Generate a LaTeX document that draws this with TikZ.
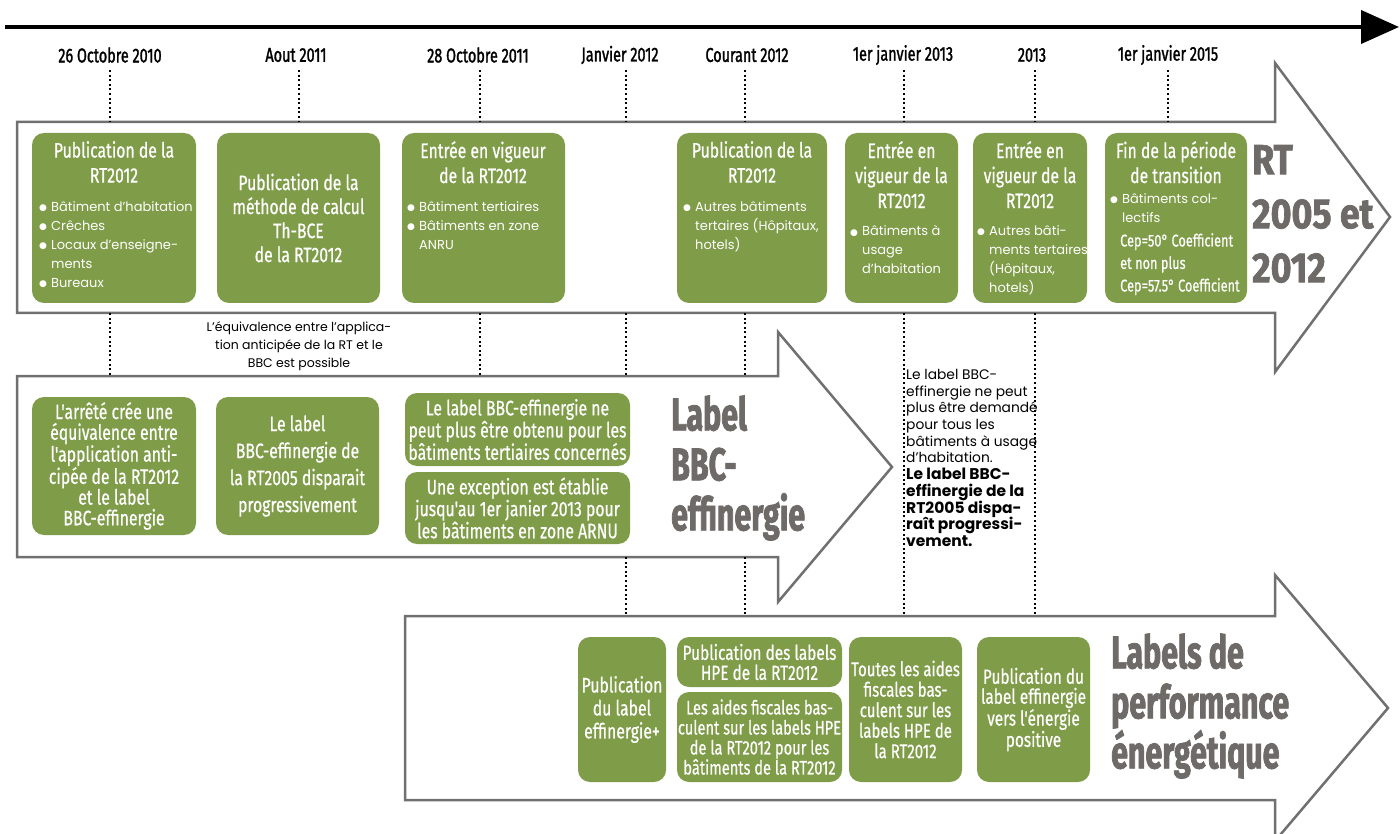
\documentclass[tikz,border=0pt]{standalone}
\usepackage{fontspec}
\setmainfont{Poppins}
\newfontfamily\cond[FakeStretch=0.75,FakeBold=0.6]{Fira Sans}
\newfontfamily\condm[FakeStretch=0.72,FakeBold=1.4]{Fira Sans}
\newfontfamily\bigf[FakeStretch=0.66,FakeBold=1.6]{Fira Sans}
\newfontfamily\rtf[FakeStretch=0.85,FakeBold=1.6]{Fira Sans}
\newfontfamily\dvs{DejaVu Sans}
\usetikzlibrary{arrows.meta}
\definecolor{gr}{HTML}{7F9C48}
\definecolor{lab}{HTML}{6D6A67}
\definecolor{arr}{HTML}{707070}
\newcommand\gb[5]{\node[gbox, minimum width={#4-#2}, minimum height={#5-#3}] (#1) at ({(#2+#4)/2},{(#3+#5)/2}) {};}
\newcommand\bu{\makebox[12pt][l]{\raisebox{0.3pt}{\dvs\fontsize{9}{9}\selectfont ●}}}
\newcommand\ind{\hspace*{12pt}}
\newcommand\bl{\fontsize{15.5}{16.7}\selectfont\bfseries}
\tikzset{
  gbox/.style={fill=gr, rounded corners=12pt, inner sep=0pt, draw=none},
  ttl/.style={text=white, font=\cond\fontsize{21}{25}\selectfont, align=center, inner sep=0pt, anchor=north},
  bl/.style={text=white, font=\fontsize{13}{19}\selectfont, align=left, inner sep=0pt, anchor=north west},
  ctxt/.style={text=white, align=center, inner sep=0pt},
  datel/.style={font=\condm\fontsize{20}{22}\selectfont, inner sep=0pt},
  dots/.style={line width=2pt, dash pattern=on 2pt off 2.6pt},
  bigarrow/.style={draw=arr, line width=2.5pt, fill=white, line join=miter},
  biglab/.style={text=lab, font=\bigf\bfseries\fontsize{46}{50}\selectfont, align=left, inner sep=0pt, anchor=west},
}
\begin{document}
\begin{tikzpicture}[x=1pt,y=-1pt]
\path[clip] (0,0) rectangle (1400,834);
\fill[white] (0,0) rectangle (1400,834);

% timeline
\coordinate (ts) at (5,27);
\coordinate (te) at (1399,27);
\draw[line width=4pt, -{Triangle[length=38pt,width=33pt]}] (ts) -- (te);

% big arrows
\draw[bigarrow] (17,122) -- (1275,122) -- (1275,63) -- (1390,217) -- (1275,372) -- (1275,313) -- (17,313) -- cycle;
\draw[bigarrow] (17,376) -- (778,376) -- (778,332) -- (892,467) -- (778,602) -- (778,557) -- (17,557) -- cycle;
\draw[bigarrow] (405,616) -- (1275,616) -- (1275,575) -- (1388,708) -- (1275,841) -- (1275,800) -- (405,800) -- cycle;

% dates
\node[datel] (d1) at (110,55) {26 Octobre 2010};
\node[datel] (d2) at (296,55) {Aout 2011};
\node[datel] (d3) at (478,55) {28 Octobre 2011};
\node[datel] (d4) at (620,55) {Janvier 2012};
\node[datel] (d5) at (747,55) {Courant 2012};
\node[datel] (d6) at (903,55) {1er janvier 2013};
\node[datel] (d7) at (1032,55) {2013};
\node[datel] (d8) at (1168,55) {1er janvier 2015};

% guide coordinates
\coordinate (yA) at (0,70);
\coordinate (yB) at (0,122);
\coordinate (yC) at (0,313);
\coordinate (yD) at (0,376);
\coordinate (yE) at (0,557);
\coordinate (yF) at (0,616);
\coordinate (p1) at (110,0);
\coordinate (p2) at (299,0);
\coordinate (p3) at (480,0);
\coordinate (p4) at (626,0);
\coordinate (p5) at (745,0);
\coordinate (p6) at (904,0);
\coordinate (p7) at (1035,0);
\coordinate (p8) at (1168,0);
\foreach \p in {p1,p2,p3,p4,p5,p6,p7,p8} {\draw[dots] (\p |- yA) -- (\p |- yB);}
\foreach \p in {p1,p3,p4,p5} {\draw[dots] (\p |- yC) -- (\p |- yD);}
\foreach \p in {p4,p5} {\draw[dots] (\p |- yE) -- (\p |- yF);}
\foreach \p in {p6,p7} {\draw[dots] (\p |- yC) -- (\p |- yF);}

% row 1
\gb{b1}{32}{133}{196}{303}
\node[ttl] (b1t) at (114,141) {Publication de la\\RT2012};
\node[bl] (b1l) at (39,201) {\bu Bâtiment d'habitation\\\bu Crêches\\\bu Locaux d'enseigne-\\\ind ments\\\bu Bureaux};

\gb{b2}{217}{133}{380}{303}
\node[ctxt, font=\cond\fontsize{21}{24}\selectfont] (b2t) at (b2) {Publication de la\\méthode de calcul\\Th-BCE\\de la RT2012};

\gb{b3}{402}{133}{565}{303}
\node[ttl] (b3t) at (483,141) {Entrée en vigueur\\de la RT2012};
\node[bl] (b3l) at (407,201) {\bu Bâtiment tertiaires\\\bu Bâtiments en zone\\\ind ANRU};

\gb{b4}{677}{133}{827}{303}
\node[ttl] (b4t) at (752,141) {Publication de la\\RT2012};
\node[bl] (b4l) at (683,201) {\bu Autres bâtiments\\\ind tertaires (Hôpitaux,\\\ind hotels)};

\gb{b5}{845}{133}{958}{303}
\node[ttl] (b5t) at (901.5,141) {Entrée en\\vigueur de la\\RT2012};
\node[bl] (b5l) at (850,225) {\bu Bâtiments à\\\ind usage\\\ind d'habitation};

\gb{b6}{973}{133}{1087}{303}
\node[ttl] (b6t) at (1030,141) {Entrée en\\vigueur de la\\RT2012};
\node[bl] (b6l) at (977,225) {\bu Autres bâti-\\\ind ments tertaires\\\ind (Hôpitaux,\\\ind hotels)};

\gb{b7}{1105}{133}{1247}{303}
\node[ttl] (b7t) at (1176,141) {Fin de la période\\de transition};
\node[bl] (b7l) at (1110,193) {\bu Bâtiments col-\\\ind lectifs};
\node[text=white, font=\cond\fontsize{17}{22.5}\selectfont, align=left, inner sep=0pt, anchor=north west] (b7c) at (1120,233) {Cep=50° Coefficient\\et non plus\\Cep=57.5° Coefficient};

% label RT
\node[text=lab, font=\rtf\bfseries\fontsize{42}{54}\selectfont, align=left, inner sep=0pt, anchor=west] (lrt) at (1252,214) {RT\\2005 et\\2012};

% equivalence note
\node[font=\fontsize{12.5}{18}\selectfont, align=center, inner sep=0pt] (eq) at (299,346) {L'équivalence entre l'applica-\\tion anticipée de la RT et le\\BBC est possible};

% row 2
\gb{c1}{32}{397}{196}{535}
\node[ctxt, font=\cond\fontsize{21}{20.7}\selectfont] (c1t) at (c1) {L'arrêté crée une\\équivalence entre\\l'application anti-\\cipée de la RT2012\\et le label\\BBC-effinergie};
\gb{c2}{216}{397}{379}{535}
\node[ctxt, font=\cond\fontsize{21}{27}\selectfont] (c2t) at (c2) {Le label\\BBC-effinergie de\\la RT2005 disparait\\progressivement};
\gb{c3}{405}{393}{630}{466}
\node[ctxt, font=\cond\fontsize{21}{20}\selectfont] (c3t) at (c3) {Le label BBC-effinergie ne\\peut plus être obtenu pour les\\bâtiments tertiaires concernés};
\gb{c4}{405}{472}{630}{544}
\node[ctxt, font=\cond\fontsize{21}{20}\selectfont] (c4t) at (c4) {Une exception est établie\\jusqu'au 1er janier 2013 pour\\les bâtiments en zone ARNU};

\node[biglab] (lbbc) at (671,468) {Label\\BBC-\\effinergie};

% text block
\node[font=\fontsize{13.8}{16.7}\selectfont, align=left, inner sep=0pt, anchor=north west] (tb) at (906,369) {Le label BBC-\\effinergie ne peut\\plus être demandé\\pour tous les\\bâtiments à usage\\d'habitation.\\\bl Le label BBC-\\\bl effinergie de la\\\bl RT2005 dispa-\\\bl raît progressi-\\\bl vement.};

% row 3
\gb{e1}{578}{637}{666}{782}
\node[ctxt, font=\cond\fontsize{21}{23}\selectfont] (e1t) at (e1) {Publication\\du label\\effinergie+};
\gb{e2}{677}{637}{842}{687}
\node[ctxt, font=\cond\fontsize{20.5}{20}\selectfont] (e2t) at (e2) {Publication des labels\\HPE de la RT2012};
\gb{e3}{677}{692}{842}{782}
\node[ctxt, font=\cond\fontsize{19.5}{20}\selectfont] (e3t) at (e3) {Les aides fiscales bas-\\culent sur les labels HPE\\de la RT2012 pour les\\bâtiments de la RT2012};
\gb{e4}{849}{637}{962}{782}
\node[ctxt, font=\cond\fontsize{20}{20.5}\selectfont] (e4t) at (e4) {Toutes les aides\\fiscales bas-\\culent sur les\\labels HPE de\\la RT2012};
\gb{e5}{977}{637}{1090}{782}
\node[ctxt, font=\cond\fontsize{20.5}{20}\selectfont] (e5t) at (e5) {Publication du\\label effinergie\\vers l'énergie\\positive};

\node[biglab] (lperf) at (1111,706) {Labels de\\performance\\énergétique};
\end{tikzpicture}
\end{document}
